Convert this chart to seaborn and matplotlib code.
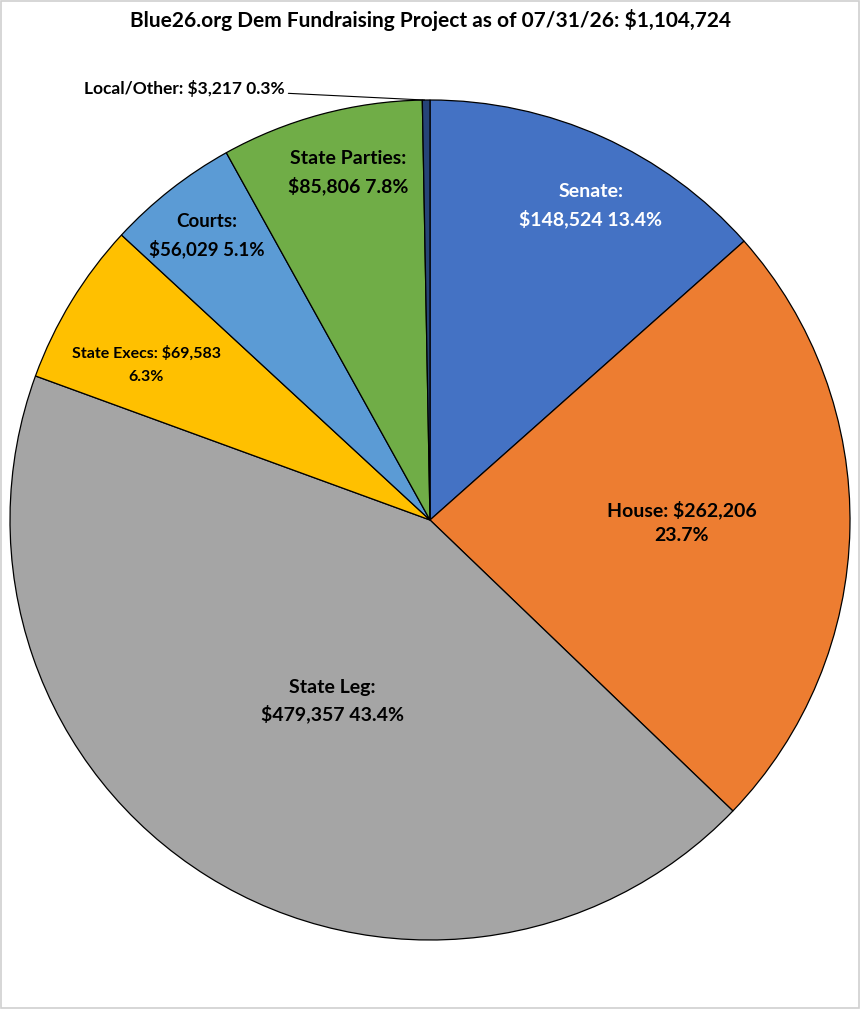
import numpy as np
import matplotlib
matplotlib.use("Agg")
import matplotlib.pyplot as plt
import seaborn as sns
from matplotlib.patches import Rectangle

# data (clockwise from 12 o'clock)
categories = ["Senate", "House", "State Leg", "State Execs", "Courts", "State Parties", "Local/Other"]
amounts = [148524, 262206, 479357, 69583, 56029, 85806, 3217]
colors = ["#4472C4", "#ED7D31", "#A5A5A5", "#FFC000", "#5B9BD5", "#70AD47", "#264478"]
total = 1104724
title = "Blue26.org Dem Fundraising Project as of 07/31/26: $1,104,724"

sns.set_theme(style="white")
plt.rcParams["font.family"] = ["Lato", "DejaVu Sans"]

fig = plt.figure(figsize=(8.6, 10.09), dpi=100)
ax = fig.add_axes([10 / 860, 69 / 1009, 840 / 860, 840 / 1009])

wedges, _ = ax.pie(amounts, colors=colors, startangle=90, counterclock=False,
                   wedgeprops=dict(edgecolor="black", linewidth=0.9))
ax.set_xlim(-1, 1)
ax.set_ylim(-1, 1)
ax.set_aspect("equal")
ax.axis("off")

# label placement: radius factor, angle offset from wedge middle, font size, color, line spacing
layout = {
    "Senate": (0.84, -2.9, 14, "white", 1.6),
    "House": (0.60, 0.6, 14, "black", 1.6),
    "State Leg": (0.49, 3.6, 14, "black", 1.6),
    "State Execs": (0.77, 2.8, 11.5, "black", 1.85),
    "Courts": (0.86, 0.0, 13.5, "black", 1.6),
    "State Parties": (0.85, -1.7, 14, "black", 1.6),
}

for w, cat, amt in zip(wedges, categories, amounts):
    pct = amt / total * 100
    mid = np.deg2rad((w.theta1 + w.theta2) / 2)
    if cat == "Local/Other":
        tip = (np.cos(np.deg2rad(w.theta2 - 0.3)), np.sin(np.deg2rad(w.theta2 - 0.3)))
        ax.annotate(f"{cat}: ${amt:,} {pct:.1f}%", xy=tip, xytext=(-0.345, 1.028),
                    ha="right", va="center", fontsize=12.5, fontweight="bold", color="black",
                    arrowprops=dict(arrowstyle="-", color="black", lw=0.8,
                                    shrinkA=0, shrinkB=0))
        continue
    r, off, fs, col, ls = layout[cat]
    ang = mid + np.deg2rad(off)
    if cat in ("House", "State Execs"):
        txt = f"{cat}: ${amt:,}\n{pct:.1f}%"
    else:
        txt = f"{cat}:\n${amt:,} {pct:.1f}%"
    ax.text(r * np.cos(ang), r * np.sin(ang), txt, ha="center", va="center",
            fontsize=fs, fontweight="bold", color=col, linespacing=ls)

fig.text(0.5, 1 - 20 / 1009, title, ha="center", va="center",
         fontsize=15, fontweight="bold", color="black")

# thin frame around the whole chart
fig.patches.append(Rectangle((0.001, 0.001), 0.998, 0.998, transform=fig.transFigure,
                             fill=False, edgecolor="#D0D0D0", linewidth=1.2))

plt.savefig("out.png", dpi=100)
plt.close()
